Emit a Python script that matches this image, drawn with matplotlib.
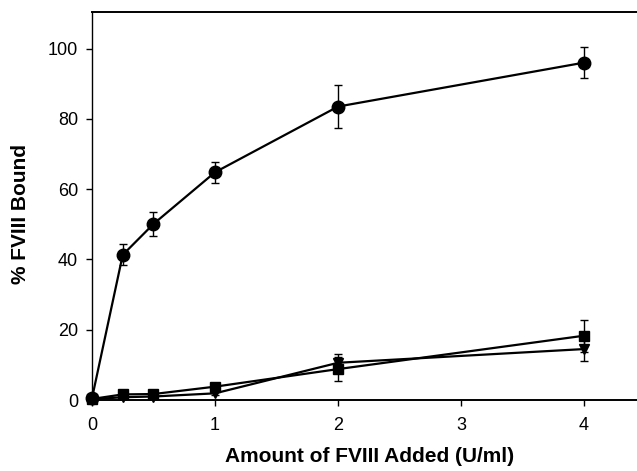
import matplotlib
matplotlib.use('Agg')
from matplotlib import pyplot as plt

plt.rcParams['font.family'] = ['Liberation Sans', 'DejaVu Sans']

x = [0, 0.25, 0.5, 1, 2, 4]

# circles
circ_y = [0.5, 41.3, 50.1, 64.8, 83.5, 96.0]
circ_e = [0.5, 3.0, 3.3, 3.0, 6.0, 4.5]
# squares
sq_y = [0.3, 1.6, 1.7, 3.8, 8.8, 18.3]
sq_e = [0.3, 0.5, 0.6, 0.8, 3.3, 4.6]
# triangles
tri_y = [0.2, 0.8, 1.0, 1.9, 10.6, 14.5]
tri_e = [0.2, 0.4, 0.4, 0.6, 2.5, 3.5]

fig = plt.figure(figsize=(6.37, 4.71), dpi=100)
ax = fig.add_axes([0.1444, 0.1507, 0.8556, 0.8238])

kw = dict(color='black', ecolor='black', elinewidth=1.0, capsize=3, capthick=1.0,
          linewidth=1.6, clip_on=False)
ax.errorbar(x, circ_y, yerr=circ_e, marker='o', markersize=9, **kw)
ax.errorbar(x, sq_y, yerr=sq_e, marker='s', markersize=7, **kw)
ax.errorbar(x, tri_y, yerr=tri_e, marker='v', markersize=7, **kw)

ax.set_xlim(0, 4.43)
ax.set_ylim(0, 110.4)
ax.set_xticks([0, 1, 2, 3, 4])
ax.set_yticks([0, 20, 40, 60, 80, 100])
ax.tick_params(direction='out', length=4, width=1, labelsize=13)
ax.tick_params(axis='x', pad=8)
ax.tick_params(axis='y', pad=6)
ax.spines['right'].set_visible(False)
for s in ['left', 'bottom', 'top']:
    ax.spines[s].set_linewidth(1.4)
ax.spines['left'].set_linewidth(1.0)

ax.set_xlabel('Amount of FVIII Added (U/ml)', fontsize=15, fontweight='bold')
ax.set_ylabel('% FVIII Bound', fontsize=15, fontweight='bold')
ax.xaxis.set_label_coords(0.51, -0.146)
ax.yaxis.set_label_coords(-0.132, 0.479)
ax.xaxis.label.set_verticalalignment('center')
ax.yaxis.label.set_verticalalignment('center')

fig.savefig('out.png', dpi=100)
